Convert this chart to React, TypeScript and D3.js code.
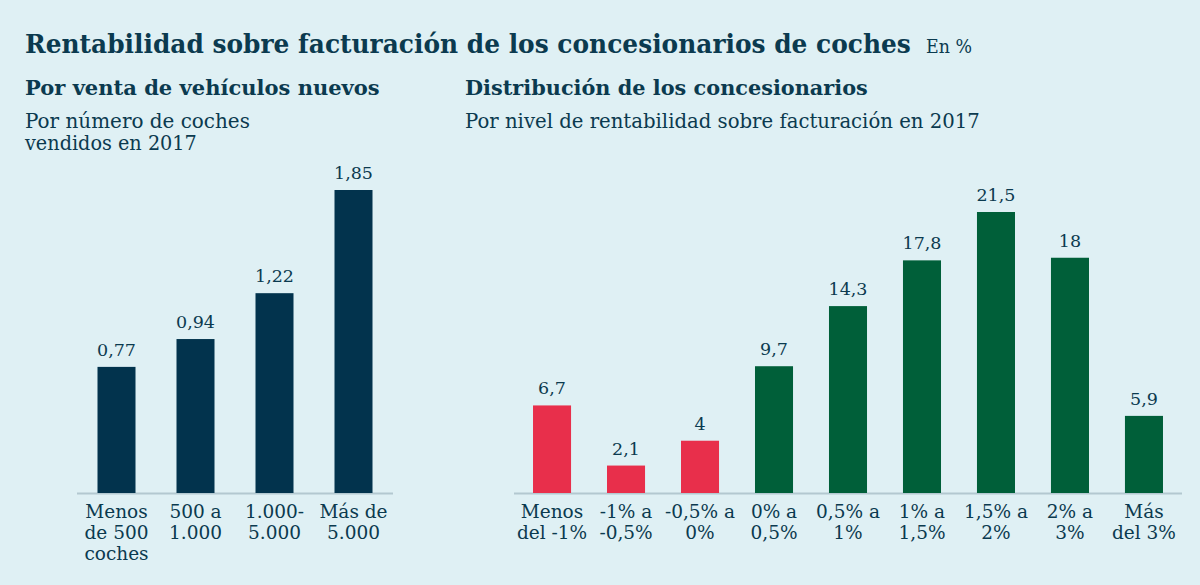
import React, { useLayoutEffect, useRef, useState } from "react";
import * as d3 from "d3";

const W = 1200;
const H = 585;

const title = "Rentabilidad sobre facturación de los concesionarios de coches";
const unit = "En %";

const leftTitle = "Por venta de vehículos nuevos";
const leftSubtitle = ["Por número de coches", "vendidos en 2017"];
const leftCategories = ["Menos de 500 coches", "500 a 1.000", "1.000-5.000", "Más de 5.000"];
const leftLabels = [["Menos", "de 500", "coches"], ["500 a", "1.000"], ["1.000-", "5.000"], ["Más de", "5.000"]];
const leftValues = [0.77, 0.94, 1.22, 1.85];
const leftValueText = ["0,77", "0,94", "1,22", "1,85"];

const rightTitle = "Distribución de los concesionarios";
const rightSubtitle = "Por nivel de rentabilidad sobre facturación en 2017";
const rightCategories = ["<-1", "-1/-0.5", "-0.5/0", "0/0.5", "0.5/1", "1/1.5", "1.5/2", "2/3", ">3"];
const rightLabels = [
  ["Menos", "del -1%"],
  ["-1% a", "-0,5%"],
  ["-0,5% a", "0%"],
  ["0% a", "0,5%"],
  ["0,5% a", "1%"],
  ["1% a", "1,5%"],
  ["1,5% a", "2%"],
  ["2% a", "3%"],
  ["Más", "del 3%"],
];
const rightValues = [6.7, 2.1, 4, 9.7, 14.3, 17.8, 21.5, 18, 5.9];
const rightValueText = ["6,7", "2,1", "4", "9,7", "14,3", "17,8", "21,5", "18", "5,9"];
const rightGroup = ["neg", "neg", "neg", "pos", "pos", "pos", "pos", "pos", "pos"];

const BG = "#dff0f4";
const TEXT = "#0b3a4f";
const NAVY = "#02334d";
const RED = "#e82f4b";
const GREEN = "#005f39";
const AXIS = "#b3c8d0";
const FONT = "'DejaVu Serif', 'Liberation Serif', serif";

// Text whose width is fitted by a horizontal scale transform (measured after render)
function FitText(props: { x: number; y: number; width: number; fontSize: number; bold?: boolean; children: string }) {
  const ref = useRef<SVGTextElement>(null);
  const [sx, setSx] = useState(1);
  useLayoutEffect(() => {
    if (ref.current) {
      const w = ref.current.getComputedTextLength();
      if (w > 0) setSx(props.width / w);
    }
  }, [props.width, props.children]);
  return (
    <text
      ref={ref}
      transform={`translate(${props.x},${props.y}) scale(${sx},1)`}
      fontSize={props.fontSize}
      fontWeight={props.bold ? "bold" : "normal"}
      fill={TEXT}
    >
      {props.children}
    </text>
  );
}

export default function App() {
  const baseY = 493;

  const xL = d3.scaleBand<string>().domain(leftCategories).range([77, 393]).paddingInner(0.519).paddingOuter(0.2595);
  const yL = d3.scaleLinear().domain([0, 1.85]).range([baseY, 190]);

  const xR = d3.scaleBand<string>().domain(rightCategories).range([514, 1182]).paddingInner(0.486).paddingOuter(0.257);
  const yR = d3.scaleLinear().domain([0, 21.5]).range([baseY, 212]);

  const colorR = d3.scaleOrdinal<string, string>().domain(["neg", "pos"]).range([RED, GREEN]);

  const catFont = 18.5;
  const valFont = 17.5;
  const subWidths = [225, 172];

  return (
    <svg width={W} height={H} style={{ position: "absolute", left: 0, top: 0, display: "block" }} fontFamily={FONT}>
      <rect x={0} y={0} width={W} height={H} fill={BG} />
      <FitText x={25} y={53} width={886} fontSize={25.5} bold>{title}</FitText>
      <FitText x={926} y={53} width={46} fontSize={19}>{unit}</FitText>

      <FitText x={25} y={95} width={355} fontSize={21} bold>{leftTitle}</FitText>
      {leftSubtitle.map((s, i) => (
        <FitText key={i} x={25} y={128 + i * 22} width={subWidths[i]} fontSize={19.5}>{s}</FitText>
      ))}

      <FitText x={465} y={95} width={403} fontSize={21} bold>{rightTitle}</FitText>
      <FitText x={465} y={128} width={515} fontSize={19.5}>{rightSubtitle}</FitText>

      {/* left chart */}
      <line x1={77} x2={393} y1={baseY + 0.5} y2={baseY + 0.5} stroke={AXIS} strokeWidth={2} />
      {leftCategories.map((c, i) => {
        const x = xL(c)!;
        const bw = xL.bandwidth();
        const cx = x + bw / 2;
        return (
          <g key={c}>
            <rect x={x} y={yL(leftValues[i])} width={bw} height={baseY - yL(leftValues[i])} fill={NAVY} />
            <text x={cx} y={yL(leftValues[i]) - 11} textAnchor="middle" fontSize={valFont} fill={TEXT}>{leftValueText[i]}</text>
            {leftLabels[i].map((l, j) => (
              <text key={j} x={cx} y={518 + j * 21} textAnchor="middle" fontSize={catFont} fill={TEXT}>{l}</text>
            ))}
          </g>
        );
      })}

      {/* right chart */}
      <line x1={514} x2={1182} y1={baseY + 0.5} y2={baseY + 0.5} stroke={AXIS} strokeWidth={2} />
      {rightCategories.map((c, i) => {
        const x = xR(c)!;
        const bw = xR.bandwidth();
        const cx = x + bw / 2;
        return (
          <g key={c}>
            <rect x={x} y={yR(rightValues[i])} width={bw} height={baseY - yR(rightValues[i])} fill={colorR(rightGroup[i])} />
            <text x={cx} y={yR(rightValues[i]) - 11} textAnchor="middle" fontSize={valFont} fill={TEXT}>{rightValueText[i]}</text>
            {rightLabels[i].map((l, j) => (
              <text key={j} x={cx} y={518 + j * 21} textAnchor="middle" fontSize={catFont} fill={TEXT}>{l}</text>
            ))}
          </g>
        );
      })}
    </svg>
  );
}
